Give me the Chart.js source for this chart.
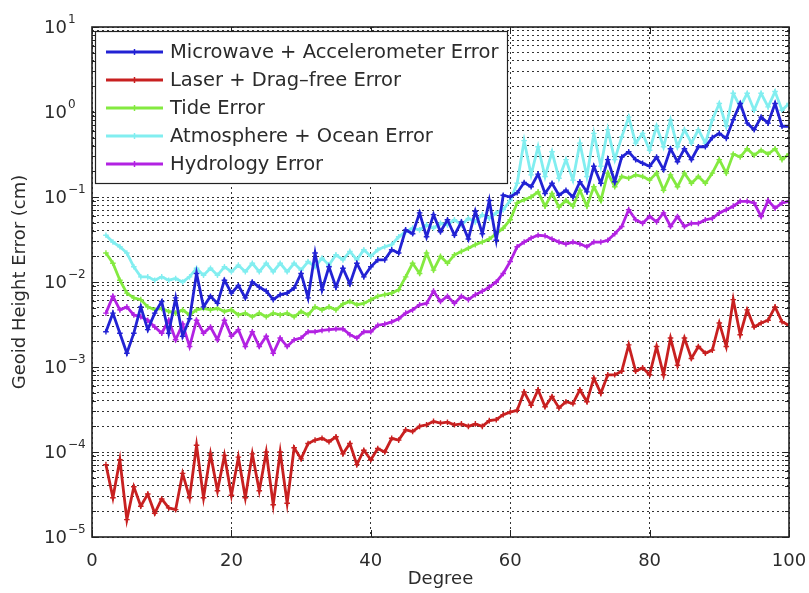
<!DOCTYPE html>
<html>
<head>
<meta charset="utf-8">
<script src="https://cdn.jsdelivr.net/npm/chart.js@4.4.0/dist/chart.umd.min.js"></script>
<style>
  html, body { margin: 0; padding: 0; background: #fff; }
  #wrap { width: 809px; height: 593px; }
</style>
</head>
<body>
<div id="wrap"><canvas id="c" width="809" height="593"></canvas></div>
<script>
// ---- data ----
const degrees = [2,3,4,5,6,7,8,9,10,11,12,13,14,15,16,17,18,19,20,21,22,23,24,25,26,27,28,29,30,31,
  32,33,34,35,36,37,38,39,40,41,42,43,44,45,46,47,48,49,50,51,52,53,54,55,56,57,58,59,60,61,
  62,63,64,65,66,67,68,69,70,71,72,73,74,75,76,77,78,79,80,81,82,83,84,85,86,87,88,89,90,91,
  92,93,94,95,96,97,98,99,100];

const microwave = [2.6e-3,4.3e-3,2.5e-3,1.45e-3,2.5e-3,5.1e-3,2.75e-3,4.3e-3,5.9e-3,2.5e-3,
  6.5e-3,2.3e-3,3.7e-3,1.26e-2,5.1e-3,6.8e-3,5.6e-3,1.05e-2,7.4e-3,9.1e-3,
  6.5e-3,1.0e-2,8.7e-3,7.8e-3,6.2e-3,7.1e-3,7.4e-3,8.5e-3,1.26e-2,6.5e-3,
  2.19e-2,8.1e-3,1.51e-2,8.7e-3,1.45e-2,9.5e-3,1.66e-2,1.15e-2,1.51e-2,1.82e-2,
  1.82e-2,2.4e-2,2.19e-2,4.1e-2,3.7e-2,6.5e-2,3.4e-2,6.2e-2,3.9e-2,5.4e-2,
  3.55e-2,5.1e-2,3.2e-2,6.8e-2,3.7e-2,9.1e-2,3.1e-2,0.105,0.10,0.112,
  0.148,0.132,0.186,0.110,0.145,0.105,0.120,0.100,0.151,0.115,
  0.23,0.145,0.275,0.151,0.295,0.34,0.275,0.25,0.23,0.295,
  0.21,0.37,0.26,0.37,0.275,0.39,0.39,0.50,0.56,0.49,
  0.81,1.26,0.74,0.62,0.87,0.74,1.26,0.68,0.68];

const laser = [7.1e-5,2.9e-5,8.1e-5,1.6e-5,3.9e-5,2.3e-5,3.2e-5,1.9e-5,2.8e-5,2.2e-5,
  2.1e-5,5.6e-5,2.9e-5,1.2e-4,2.9e-5,9.5e-5,3.5e-5,9.1e-5,3.1e-5,8.7e-5,
  2.9e-5,9.5e-5,3.5e-5,1.0e-4,2.4e-5,1.0e-4,2.5e-5,1.12e-4,8.3e-5,1.26e-4,
  1.38e-4,1.45e-4,1.32e-4,1.51e-4,9.5e-5,1.26e-4,7.1e-5,1.05e-4,8.1e-5,1.1e-4,
  1.0e-4,1.45e-4,1.38e-4,1.82e-4,1.74e-4,2.0e-4,2.09e-4,2.29e-4,2.19e-4,2.24e-4,
  2.09e-4,2.14e-4,2.0e-4,2.14e-4,2.0e-4,2.34e-4,2.4e-4,2.75e-4,2.95e-4,3.09e-4,
  5.1e-4,3.55e-4,5.4e-4,3.4e-4,4.5e-4,3.3e-4,3.9e-4,3.7e-4,5.4e-4,3.9e-4,
  7.4e-4,4.9e-4,8.1e-4,8.1e-4,8.9e-4,1.82e-3,8.9e-4,9.8e-4,8.1e-4,1.74e-3,
  8.1e-4,2.19e-3,1.05e-3,2.19e-3,1.26e-3,1.74e-3,1.45e-3,1.58e-3,3.3e-3,1.74e-3,
  6.2e-3,2.4e-3,4.7e-3,2.95e-3,3.3e-3,3.55e-3,5.1e-3,3.4e-3,3.1e-3];

const tide = [2.19e-2,1.66e-2,1.05e-2,7.4e-3,6.5e-3,6.2e-3,5.1e-3,4.7e-3,4.9e-3,4.5e-3,
  4.3e-3,4.7e-3,4.1e-3,4.7e-3,4.9e-3,4.7e-3,4.9e-3,4.5e-3,4.7e-3,4.1e-3,
  4.3e-3,3.9e-3,4.3e-3,3.9e-3,4.3e-3,4.1e-3,4.3e-3,3.9e-3,4.5e-3,4.1e-3,
  5.1e-3,4.7e-3,5.1e-3,4.7e-3,5.5e-3,5.9e-3,5.4e-3,5.6e-3,6.2e-3,6.8e-3,
  7.1e-3,7.4e-3,8.1e-3,1.15e-2,1.66e-2,1.26e-2,2.19e-2,1.38e-2,2.0e-2,1.66e-2,
  2.09e-2,2.29e-2,2.5e-2,2.75e-2,2.95e-2,3.2e-2,3.7e-2,4.3e-2,5.4e-2,8.5e-2,
  9.3e-2,0.100,0.115,7.8e-2,0.110,7.6e-2,9.1e-2,7.8e-2,0.120,7.8e-2,
  0.132,9.1e-2,0.191,0.132,0.174,0.166,0.182,0.174,0.158,0.191,
  0.120,0.182,0.132,0.191,0.145,0.174,0.145,0.191,0.275,0.191,
  0.32,0.295,0.37,0.31,0.355,0.32,0.37,0.275,0.32];

const atmosphere = [3.55e-2,2.95e-2,2.6e-2,2.19e-2,1.51e-2,1.15e-2,1.15e-2,1.05e-2,1.15e-2,1.05e-2,
  1.1e-2,1.0e-2,1.15e-2,1.45e-2,1.2e-2,1.45e-2,1.2e-2,1.51e-2,1.32e-2,1.58e-2,
  1.32e-2,1.66e-2,1.32e-2,1.66e-2,1.32e-2,1.66e-2,1.32e-2,1.66e-2,1.38e-2,1.74e-2,
  1.51e-2,1.91e-2,1.58e-2,2.09e-2,1.82e-2,2.29e-2,1.82e-2,2.4e-2,2.0e-2,2.4e-2,
  2.6e-2,2.75e-2,3.4e-2,3.9e-2,4.3e-2,4.1e-2,4.7e-2,4.3e-2,4.9e-2,4.7e-2,
  5.4e-2,4.7e-2,5.6e-2,5.1e-2,6.2e-2,5.6e-2,6.5e-2,7.1e-2,9.1e-2,0.145,
  0.46,0.182,0.39,0.174,0.34,0.166,0.275,0.158,0.43,0.174,
  0.56,0.23,0.62,0.275,0.51,0.87,0.43,0.56,0.355,0.68,
  0.39,0.81,0.39,0.62,0.43,0.62,0.43,0.81,1.26,0.68,
  1.66,1.15,1.66,1.05,1.66,1.15,1.74,1.05,1.26];

const hydrology = [4.3e-3,6.8e-3,4.7e-3,5.1e-3,4.1e-3,3.9e-3,3.55e-3,2.95e-3,2.5e-3,3.55e-3,
  2.09e-3,3.2e-3,1.74e-3,3.55e-3,2.5e-3,2.95e-3,2.09e-3,3.55e-3,2.3e-3,2.75e-3,
  1.74e-3,2.6e-3,1.74e-3,2.3e-3,1.45e-3,2.19e-3,1.74e-3,2.09e-3,2.19e-3,2.6e-3,
  2.6e-3,2.7e-3,2.75e-3,2.8e-3,2.8e-3,2.4e-3,2.19e-3,2.6e-3,2.6e-3,3.1e-3,
  3.2e-3,3.4e-3,3.7e-3,4.3e-3,4.7e-3,5.4e-3,5.6e-3,7.8e-3,5.9e-3,6.8e-3,
  5.6e-3,6.8e-3,6.2e-3,7.1e-3,7.8e-3,8.7e-3,1.0e-2,1.26e-2,1.74e-2,2.6e-2,
  2.95e-2,3.3e-2,3.55e-2,3.5e-2,3.2e-2,2.95e-2,2.8e-2,2.95e-2,2.8e-2,2.6e-2,
  2.95e-2,2.95e-2,3.1e-2,3.7e-2,4.5e-2,7.1e-2,5.4e-2,4.9e-2,5.9e-2,5.1e-2,
  6.5e-2,4.5e-2,5.9e-2,4.5e-2,4.9e-2,4.9e-2,5.4e-2,5.6e-2,6.5e-2,7.1e-2,
  7.8e-2,8.9e-2,8.9e-2,8.5e-2,5.9e-2,9.1e-2,7.4e-2,8.5e-2,8.9e-2];

const seriesNames = ['Microwave + Accelerometer Error', 'Laser + Drag\u2013free Error', 'Tide Error',
  'Atmosphere + Ocean Error', 'Hydrology Error'];
const seriesColors = ['#2222d4', '#c82020', '#84ea40', '#82eef0', '#b222e2'];
const xTickValues = [0, 20, 40, 60, 80, 100];
const yDecades = [-5, -4, -3, -2, -1, 0, 1];
const mantissas = [1, 2, 3, 4, 5, 6, 7, 8, 9];

const FONT = '"DejaVu Sans", "Liberation Sans", Arial, sans-serif';
const TXT = '#2b2b2b';

// ---- helpers ----
function isDecade(v) {
  const l = Math.log10(v);
  return Math.abs(l - Math.round(l)) < 1e-9;
}
function seg(ctx, x1, y1, x2, y2) {
  ctx.beginPath(); ctx.moveTo(x1, y1); ctx.lineTo(x2, y2); ctx.stroke();
}

// frame, inner tick marks, superscript y labels and the boxed legend
const matlabLook = {
  id: 'matlabLook',
  afterDraw(chart) {
    const { ctx, chartArea: a, scales: { x, y } } = chart;
    ctx.save();
    ctx.strokeStyle = '#222';
    ctx.lineWidth = 1;
    y.ticks.forEach(t => {
      const py = Math.round(y.getPixelForValue(t.value)) + 0.5;
      const len = isDecade(t.value) ? 7 : 4;
      seg(ctx, a.left, py, a.left + len, py);
      seg(ctx, a.right, py, a.right - len, py);
    });
    xTickValues.forEach(v => {
      const px = Math.round(x.getPixelForValue(v)) + 0.5;
      seg(ctx, px, a.bottom, px, a.bottom - 7);
      seg(ctx, px, a.top, px, a.top + 7);
    });
    ctx.lineWidth = 1.6;
    ctx.strokeRect(a.left, a.top, a.right - a.left, a.bottom - a.top);

    // y tick labels 10^n
    ctx.fillStyle = TXT;
    ctx.textBaseline = 'middle';
    yDecades.forEach(e => {
      const py = y.getPixelForValue(Math.pow(10, e));
      ctx.font = '18px ' + FONT;
      ctx.textAlign = 'right';
      ctx.fillText('10', 67, py + 1);
      ctx.font = '12px ' + FONT;
      ctx.textAlign = 'left';
      ctx.fillText(e < 0 ? '\u2212' + (-e) : String(e), 68, py - 7);
    });

    // legend box
    const bx = 95, by = 31, bw = 412, bh = 152;
    ctx.fillStyle = '#fff';
    ctx.fillRect(bx, by, bw, bh);
    ctx.lineWidth = 1.2;
    ctx.strokeStyle = '#222';
    ctx.strokeRect(bx + 0.5, by + 0.5, bw, bh);
    ctx.font = '19.5px ' + FONT;
    ctx.textAlign = 'left';
    ctx.textBaseline = 'middle';
    seriesNames.forEach((name, i) => {
      const ly = 52 + i * 28;
      ctx.strokeStyle = seriesColors[i];
      ctx.lineWidth = 3;
      seg(ctx, 106, ly, 163, ly);
      ctx.lineWidth = 1.5;
      seg(ctx, 134.5, ly - 3, 134.5, ly + 3);
      ctx.fillStyle = TXT;
      ctx.fillText(name, 170, ly + 1);
    });
    ctx.restore();
  }
};

const allSeries = [microwave, laser, tide, atmosphere, hydrology];
const datasets = allSeries.map((vals, i) => ({
  label: seriesNames[i],
  data: degrees.map((d, k) => ({ x: d, y: vals[k] })),
  borderColor: seriesColors[i],
  backgroundColor: seriesColors[i],
  borderWidth: 2.8,
  pointStyle: 'cross',
  pointRadius: 2.8,
  pointBorderWidth: 1.4,
  pointBorderColor: seriesColors[i],
  tension: 0,
  fill: false
}));

new Chart(document.getElementById('c'), {
  type: 'line',
  data: { datasets },
  plugins: [matlabLook],
  options: {
    responsive: false,
    animation: false,
    events: [],
    layout: { padding: { top: 27, right: 20, left: 0, bottom: 0 } },
    plugins: { legend: { display: false }, tooltip: { enabled: false } },
    scales: {
      x: {
        type: 'linear',
        min: 0, max: 100,
        afterBuildTicks: s => { s.ticks = xTickValues.map(v => ({ value: v })); },
        afterFit: s => { s.height = 56; s.paddingLeft = 0; s.paddingRight = 0; },
        ticks: { color: TXT, font: { family: FONT, size: 18 }, padding: 14, maxRotation: 0 },
        grid: { color: '#333', lineWidth: 1, drawTicks: false },
        border: { display: false, dash: [2, 3] },
        title: { display: true, text: 'Degree', color: TXT, font: { family: FONT, size: 18 }, padding: { top: 0, bottom: 3 } }
      },
      y: {
        type: 'logarithmic',
        min: 1e-5, max: 10,
        afterBuildTicks: s => {
          const t = [];
          yDecades.forEach(e => mantissas.forEach(m => {
            const v = m * Math.pow(10, e);
            if (v <= 10.0000001) t.push({ value: v });
          }));
          s.ticks = t;
        },
        afterFit: s => { s.width = 92; s.paddingTop = 0; s.paddingBottom = 0; },
        ticks: { display: false },
        grid: { color: '#333', lineWidth: 1, drawTicks: false },
        border: { display: false, dash: [2, 3] },
        title: { display: true, text: 'Geoid Height Error (cm)', color: TXT, font: { family: FONT, size: 18 }, padding: { top: 10, bottom: 0 } }
      }
    }
  }
});
</script>
</body>
</html>
